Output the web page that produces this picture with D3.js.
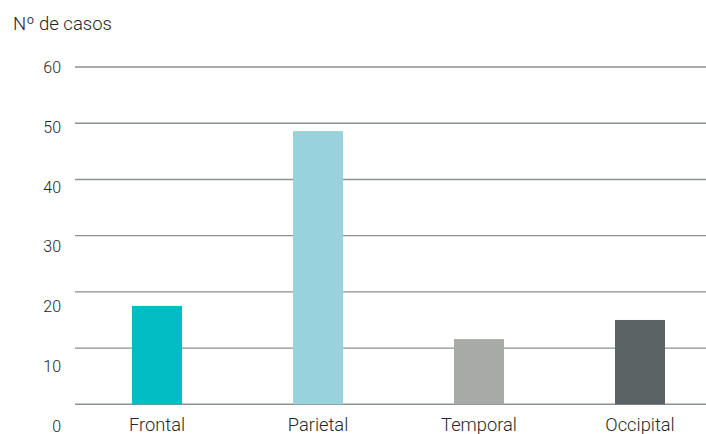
<!DOCTYPE html>
<html><head><meta charset="utf-8">
<script src="https://cdn.jsdelivr.net/npm/d3@7"></script>
<style>body{margin:0;background:#fff}svg{display:block}text{font-family:Roboto,"Noto Sans",sans-serif;font-weight:300;fill:#262626}</style>
</head><body><svg id="c" width="706" height="434"></svg>
<script>
const categories = ["Frontal","Parietal","Temporal","Occipital"];
const values = [17.5, 48.6, 11.6, 15.0];
const colors = ["#00bec4","#98d2dc","#a8aaa8","#5a6263"];
const ticks = [0,10,20,30,40,50,60];
const yTitle = "Nº de casos";

const svg = d3.select("#c");
const y = d3.scaleLinear().domain([0,60]).range([404.3,67]);
const yLab = d3.scaleLinear().domain([0,60]).range([426,67.7]);
const x = d3.scaleBand().domain(categories).range([76.5,720.5]).paddingInner(0.6894).paddingOuter(0.3447);

svg.append("g").selectAll("line").data(ticks).join("line")
  .attr("x1",75).attr("x2",706)
  .attr("y1",d=>y(d)).attr("y2",d=>y(d))
  .attr("stroke","#8c9294").attr("stroke-width",1.4);

svg.append("g").selectAll("text").data(ticks).join("text")
  .attr("x",61).attr("y",d=>yLab(d)).attr("dy","0.35em")
  .attr("text-anchor","end").attr("font-size",16).text(d=>d);

svg.append("g").selectAll("rect").data(values).join("rect")
  .attr("x",(d,i)=>x(categories[i])).attr("width",x.bandwidth())
  .attr("y",d=>y(d)).attr("height",d=>y(0)-y(d))
  .attr("fill",(d,i)=>colors[i]);

svg.append("g").selectAll("text").data(categories).join("text")
  .attr("x",d=>x(d)+x.bandwidth()/2).attr("y",430.5)
  .attr("text-anchor","middle").attr("font-size",18.3).text(d=>d);

svg.append("text").attr("x",13).attr("y",29.5).attr("font-size",18.5).text(yTitle);
</script></body></html>
